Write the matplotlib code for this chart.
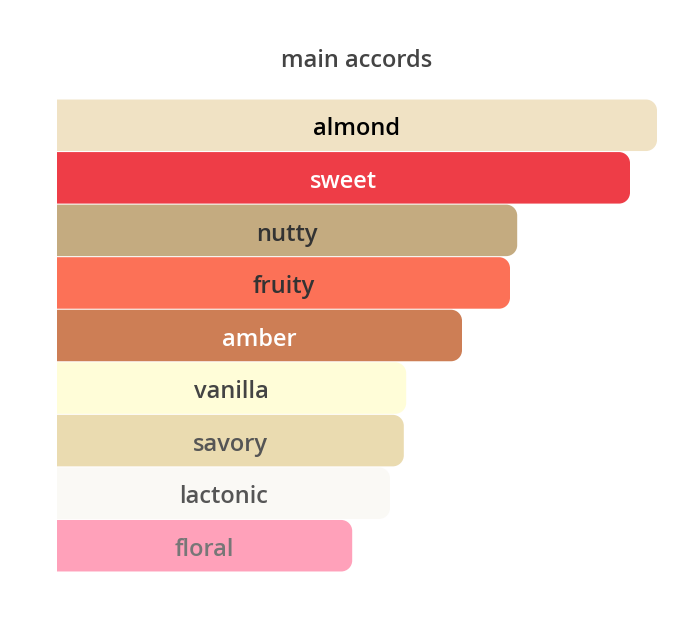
import matplotlib
matplotlib.use("Agg")
import matplotlib.pyplot as plt
from matplotlib.path import Path
from matplotlib.patches import PathPatch

accords = ["almond", "sweet", "nutty", "fruity", "amber", "vanilla", "savory", "lactonic", "floral"]
values = [100, 95.5, 76.7, 75.5, 67.5, 58.2, 57.8, 55.5, 49.2]
bar_colors = ["#F0E2C4", "#EE3D47", "#C4AB80", "#FC7157", "#CD7E55", "#FFFDD8", "#EADBB0", "#FAF9F5", "#FFA1BA"]
text_colors = ["#000000", "#FFFFFF", "#333333", "#333333", "#FFFFFF", "#444444", "#555555", "#555555", "#777777"]

W, H, DPI = 699, 622, 100
fig = plt.figure(figsize=(W / DPI, H / DPI), dpi=DPI)
fig.patch.set_facecolor("white")
ax_left, ax_right, ax_top, ax_bot = 57, 657, 99, 572
ax = fig.add_axes([ax_left / W, (H - ax_bot) / H, (ax_right - ax_left) / W, (ax_bot - ax_top) / H])
ax.set_xlim(0, 100)
ax.set_ylim(len(accords) - 0.5, -0.5)
ax.axis("off")

font = ["Open Sans", "DejaVu Sans"]
bars = ax.barh(range(len(accords)), values, height=0.98, color=bar_colors)

# round the right corners (radius in pixels)
r_px = 11
px_x = (ax_right - ax_left) / 100.0
px_y = (ax_bot - ax_top) / len(accords)
rx, ry = r_px / px_x, r_px / px_y
k = 0.5523
for rect, col in zip(bars.patches, bar_colors):
    x0 = rect.get_x(); y0 = rect.get_y(); w = rect.get_width(); h = rect.get_height()
    x1 = x0 + w; y1 = y0 + h
    verts = [
        (x0, y0), (x1 - rx, y0),
        (x1 - rx + k * rx, y0), (x1, y0 + ry - k * ry), (x1, y0 + ry),
        (x1, y1 - ry),
        (x1, y1 - ry + k * ry), (x1 - rx + k * rx, y1), (x1 - rx, y1),
        (x0, y1), (x0, y0),
    ]
    codes = [Path.MOVETO, Path.LINETO,
             Path.CURVE4, Path.CURVE4, Path.CURVE4,
             Path.LINETO,
             Path.CURVE4, Path.CURVE4, Path.CURVE4,
             Path.LINETO, Path.CLOSEPOLY]
    rect.set_visible(False)
    ax.add_patch(PathPatch(Path(verts, codes), facecolor=col, edgecolor="none"))

for i, (name, v, tc) in enumerate(zip(accords, values, text_colors)):
    ax.text(v / 2, i + 0.08, name, ha="center", va="center", color=tc,
            fontsize=17, fontweight="semibold", family=font)

fig.text(357 / W, 1 - 61 / H, "main accords", ha="center", va="center",
         color="#444444", fontsize=17, fontweight="semibold", family=font)

fig.savefig("out.png", dpi=DPI, facecolor="white")
